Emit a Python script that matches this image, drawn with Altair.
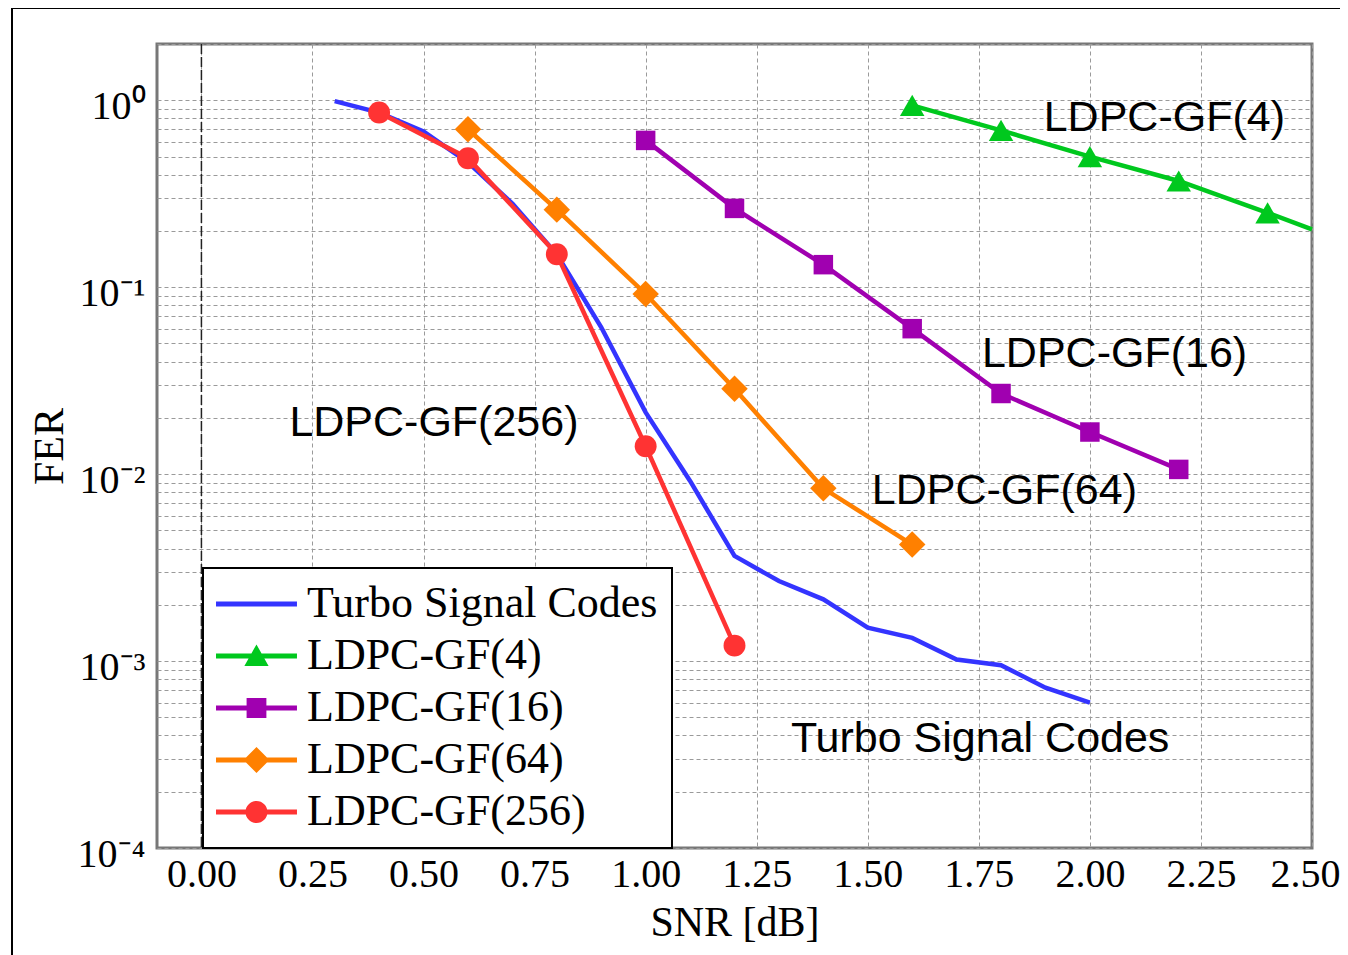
import altair as alt
import pandas as pd

# ---------------- data ----------------
series_names = ["Turbo Signal Codes", "LDPC-GF(4)", "LDPC-GF(16)", "LDPC-GF(64)", "LDPC-GF(256)"]
series_colors = ["#3434ff", "#00c81e", "#a000b0", "#ff8000", "#ff3333"]

turbo_snr = [0.3, 0.4, 0.5, 0.6, 0.7, 0.8, 0.9, 1.0, 1.1, 1.2, 1.3, 1.4, 1.5, 1.6, 1.7, 1.8, 1.9, 2.0]
turbo_fer = [0.99, 0.86, 0.68, 0.465, 0.28, 0.15, 0.061, 0.0214, 0.0092, 0.00365, 0.00268, 0.00214,
             0.00151, 0.00133, 0.00102, 0.00095, 0.00072, 0.0006]

gf4_snr = [1.6, 1.8, 2.0, 2.2, 2.4, 2.5]
gf4_fer = [0.94, 0.69, 0.50, 0.37, 0.25, 0.204]

gf16_snr = [1.0, 1.2, 1.4, 1.6, 1.8, 2.0, 2.2]
gf16_fer = [0.61, 0.264, 0.132, 0.060, 0.0270, 0.0168, 0.0106]

gf64_snr = [0.6, 0.8, 1.0, 1.2, 1.4, 1.6]
gf64_fer = [0.70, 0.26, 0.092, 0.0286, 0.0084, 0.0042]

gf256_snr = [0.4, 0.6, 0.8, 1.0, 1.2]
gf256_fer = [0.86, 0.49, 0.15, 0.0141, 0.00121]

label_text = ["LDPC-GF(4)", "LDPC-GF(16)", "LDPC-GF(256)", "LDPC-GF(64)", "Turbo Signal Codes"]
label_snr = [1.896, 1.757, 0.198, 1.509, 1.327]
label_fer = [0.682, 0.0375, 0.016, 0.0069, 0.000328]

x_ticks = [0.0, 0.25, 0.5, 0.75, 1.0, 1.25, 1.5, 1.75, 2.0, 2.25, 2.5]
decades = [-4, -3, -2, -1, 0]

# ---------------- tables ----------------
all_snr = [turbo_snr, gf4_snr, gf16_snr, gf64_snr, gf256_snr]
all_fer = [turbo_fer, gf4_fer, gf16_fer, gf64_fer, gf256_fer]
rows = []
for name, xs, ys in zip(series_names, all_snr, all_fer):
    for xv, yv in zip(xs, ys):
        rows.append({"series": name, "snr": xv, "fer": yv})
df = pd.DataFrame(rows)
labels_df = pd.DataFrame({"text": label_text, "snr": label_snr, "fer": label_fer})

# y grid values: 1..9 x 10^k plus 1 and 2
y_grid = []
for k in decades[:-1]:
    for m in range(1, 10):
        y_grid.append(float(f"{m}e{k}"))
y_grid += [1.0, 2.0]

sup = {"0": "\u2070", "1": "\u00b9", "2": "\u00b2", "3": "\u00b3", "4": "\u2074", "-": "\u207b"}
expr = "''"
for k in decades:
    lab = "10" + "".join(sup[c] for c in str(k))
    expr = f"datum.value == {float(f'1e{k}')} ? '{lab}' : ({expr})"

SERIF = "Liberation Serif"
SANS = "Liberation Sans"

xscale = alt.Scale(type="linear", domain=[-0.1, 2.5], nice=False, zero=False)
yscale = alt.Scale(type="log", domain=[1e-4, 2], nice=False)

last_tick = x_ticks[-1]
xaxis = alt.Axis(values=x_ticks, format=".2f", title="SNR [dB]", grid=True,
                 gridColor="#9a9a9a", gridDash=[4, 3], gridWidth=1, ticks=False, domain=False,
                 labelFont=SERIF, labelFontSize=40, labelColor="black", labelPadding=6,
                 labelFlush=False, labelOverlap=False,
                 labelAlign={"condition": {"test": f"datum.value == {last_tick}", "value": "right"},
                             "value": "center"},
                 labelOffset={"condition": {"test": f"datum.value == {last_tick}", "value": 28},
                              "value": 0},
                 titleFont=SERIF, titleFontSize=42, titleFontWeight="normal", titleColor="black",
                 titleY=87, titleBaseline="alphabetic")
yaxis = alt.Axis(values=y_grid, labelExpr=expr, title="FER", grid=True,
                 gridColor="#9a9a9a", gridDash=[4, 3], gridWidth=1, ticks=False, domain=False,
                 labelFont=SERIF, labelFontSize=40, labelColor="black", labelPadding=12,
                 labelOffset=6, labelOverlap=False, labelFlush=False, labelBound=False,
                 titleFont=SERIF, titleFontSize=42, titleFontWeight="normal", titleColor="black",
                 titleX=-95, titleBaseline="alphabetic")

X = alt.X("snr:Q", scale=xscale, axis=xaxis)
Y = alt.Y("fer:Q", scale=yscale, axis=yaxis)

# legend symbols: line segment + marker, as unit-space SVG paths
line_seg = "M-2.09,-0.22H5.27V0.22H-2.09Z"
legend_paths = [
    line_seg,
    line_seg + "M1.59,-1.05L2.69,0.9L0.49,0.9Z",
    line_seg + "M0.69,-0.9H2.49V0.9H0.69Z",
    line_seg + "M1.59,-1.18L2.77,0L1.59,1.18L0.41,0Z",
    line_seg + "M0.59,0A1,1 0 0,1 2.59,0A1,1 0 0,1 0.59,0Z",
]
marker_shapes = [None, "triangle-up", "square", "diamond", "circle"]
marker_sizes = [0, 600, 380, 700, 480]

frame = alt.Chart(pd.DataFrame({"a": [0]})).mark_rect(
    fill="transparent", stroke="black", strokeWidth=2
).encode(x=alt.value(-145), x2=alt.value(1200), y=alt.value(-36), y2=alt.value(920))

legend_layer = alt.Chart(df).transform_filter("false").mark_point(
    filled=True, opacity=1, size=484
).encode(
    x=X, y=Y,
    color=alt.Color("series:N", scale=alt.Scale(domain=series_names, range=series_colors),
                    legend=alt.Legend(title=None, orient="none", legendX=46, legendY=524,
                                      labelFont=SERIF, labelFontSize=44, labelColor="black",
                                      labelLimit=600, symbolSize=484, symbolStrokeWidth=0,
                                      symbolOpacity=1, labelOffset=46, rowPadding=8, padding=14,
                                      strokeColor="black", fillColor="white")),
    shape=alt.Shape("series:N", scale=alt.Scale(domain=series_names, range=legend_paths)),
)

zero_rule = alt.Chart(pd.DataFrame({"snr": [0.0]})).mark_rule(
    color="#222222", strokeDash=[10, 3], strokeWidth=1.5
).encode(x=X)

layers = [frame, legend_layer, zero_rule]
for name, col in zip(series_names, series_colors):
    layers.append(
        alt.Chart(df).transform_filter(alt.datum.series == name)
        .mark_line(color=col, strokeWidth=4.5)
        .encode(x=X, y=Y)
    )
for name, col, shp, sz in zip(series_names, series_colors, marker_shapes, marker_sizes):
    if shp is None:
        continue
    layers.append(
        alt.Chart(df).transform_filter((alt.datum.series == name) & (alt.datum.snr <= 2.45))
        .mark_point(shape=shp, size=sz, filled=True, color=col, opacity=1)
        .encode(x=X, y=Y)
    )

texts = alt.Chart(labels_df).mark_text(
    font=SANS, fontSize=43, align="left", baseline="alphabetic", color="black"
).encode(x=X, y=Y, text="text:N")
layers.append(texts)

chart = alt.layer(*layers).properties(
    width=1155, height=804,
    autosize=alt.AutoSizeParams(type="none"),
    padding={"left": 149, "top": 36, "right": 28, "bottom": 107},
    background="white",
).configure_view(stroke="#777777", strokeWidth=3).configure_legend(strokeWidth=2)

chart.save("out.html", embed_options={"renderer": "svg", "actions": False})
